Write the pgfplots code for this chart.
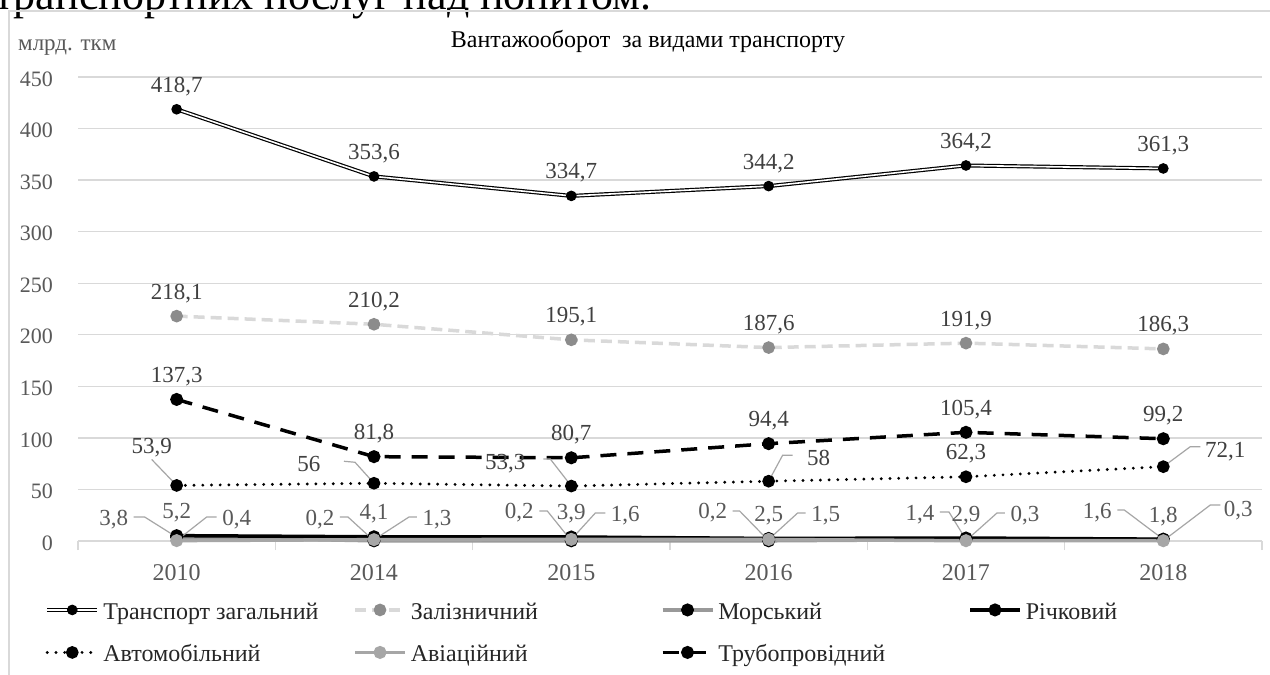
\documentclass[border=0pt]{standalone}
\usepackage{fontspec}
\setmainfont{Liberation Serif}
\usepackage{pgfplots}
\pgfplotsset{compat=1.18}
\definecolor{gridgray}{HTML}{D9D9D9}
\definecolor{tickgray}{HTML}{595959}
\definecolor{labgray}{HTML}{404040}
\definecolor{leadgray}{HTML}{A6A6A6}
\definecolor{railline}{HTML}{D9D9D9}
\definecolor{railmark}{HTML}{8C8C8C}
\definecolor{seagray}{HTML}{999999}
\definecolor{aviagray}{HTML}{A6A6A6}
\definecolor{legtext}{HTML}{262626}
\newcommand{\fs}[1]{\fontsize{#1}{#1}\selectfont}
\newcommand{\lent}[1]{\makebox[254pt][l]{\hspace{4pt}\rule[-16pt]{0pt}{46pt}#1}}
\tikzset{
  dlab/.style={font=\fs{23}, text=labgray, anchor=base, yshift=17pt, inner sep=0pt},
  slab/.style={font=\fs{23}, text=tickgray, anchor=base, yshift=17pt, inner sep=0pt},
  lab/.style={font=\fs{23}, text=labgray, anchor=base, inner sep=0pt},
  glab/.style={font=\fs{23}, text=tickgray, anchor=base, inner sep=0pt},
  lead/.style={leadgray, line width=1.2pt},
}
\begin{document}
\begin{tikzpicture}
\useasboundingbox (0,0) rectangle (1270pt,-675pt);
\fill[white] (0,0) rectangle (1270pt,-675pt);
\clip (0,0) rectangle (1270pt,-675pt);
\node[anchor=base west, inner sep=0pt] at (-6pt,-9pt) {\fontsize{44pt}{50pt}\selectfont транспортних послуг над попитом.};
\draw[gridgray, line width=1.5pt] (9pt,-700pt) -- (9pt,-11pt) -- (1300pt,-11pt);
\node[anchor=base, inner sep=0pt, font=\fs{24}] at (648pt,-47pt) {Вантажооборот\ \ за видами транспорту};
\node[anchor=base west, inner sep=0pt, font=\fs{23}, text=tickgray] at (18pt,-50pt) {млрд. ткм};
\begin{axis}[
  at={(78pt,-541pt)}, anchor=south west,
  scale only axis, width=1184pt, height=464pt,
  xmin=-0.5, xmax=5.5, ymin=0, ymax=450,
  clip=false,
  xtick={0,...,5}, xticklabels={2010,2014,2015,2016,2017,2018},
  minor xtick={-0.5,0.5,...,5.5},
  ytick={0,50,...,450},
  ymajorgrids, major grid style={gridgray, line width=1.3pt},
  axis x line*=bottom, axis y line*=left,
  x axis line style={gridgray, line width=1.3pt},
  y axis line style={draw=none},
  major tick length=0pt, minor tick length=9pt, tick align=outside,
  major tick style={draw=none},
  minor x tick style={gridgray, line width=1.3pt},
  /pgf/number format/assume math mode=true,
  /pgf/number format/use comma,
  xticklabel style={font=\fs{24}, text=tickgray, anchor=center, yshift=-32pt},
  yticklabel style={font=\fs{22}, text=tickgray, anchor=east, inner sep=0pt, xshift=-25pt, yshift=-2pt},
  legend columns=4,
  legend cell align=left,
  legend style={draw=none, fill=none, at={(-0.0278,-0.1034)}, anchor=north west,
    font=\fs{24}, text=legtext, column sep=0pt, row sep=11pt, inner sep=0pt,
    nodes={inner sep=0pt}},
  legend image code/.code={\draw[yshift=-5pt, mark repeat=2,mark phase=2] plot coordinates {(0pt,0pt) (25pt,0pt) (50pt,0pt)};},
]
\addplot[black, line width=1.2pt, double=white, double distance=1.6pt, mark=*, mark size=4.7pt,
  mark options={solid, fill=black, draw=black},
  nodes near coords, every node near coord/.append style={dlab}]
  coordinates {(0,418.7) (1,353.6) (2,334.7) (3,344.2) (4,364.2) (5,361.3)};
\addlegendentry{\lent{Транспорт загальний}}
\addplot[railline, line width=3.5pt, dash pattern=on 11pt off 6pt, mark=*, mark size=4.5pt,
  mark options={solid, fill=railmark, draw=railmark},
  nodes near coords, every node near coord/.append style={dlab}]
  coordinates {(0,218.1) (1,210.2) (2,195.1) (3,187.6) (4,191.9) (5,186.3)};
\addlegendentry{\lent{Залізничний}}
\addplot[seagray, line width=3.5pt, mark=*, mark size=4.7pt,
  mark options={solid, fill=black, draw=black}]
  coordinates {(0,3.8) (1,0.2) (2,0.2) (3,0.2) (4,1.4) (5,1.6)};
\addlegendentry{\lent{Морський}}
\addplot[black, line width=3.5pt, mark=*, mark size=4.7pt,
  mark options={solid, fill=black, draw=black},
  nodes near coords, every node near coord/.append style={slab}]
  coordinates {(0,5.2) (1,4.1) (2,3.9) (3,2.5) (4,2.9) (5,1.8)};
\addlegendentry{\lent{Річковий}}
\addplot[black, line width=3.2pt, line cap=round, dash pattern=on 0pt off 8.7pt, mark=*, mark size=4.7pt,
  mark options={solid, fill=black, draw=black}]
  coordinates {(0,53.9) (1,56) (2,53.3) (3,58) (4,62.3) (5,72.1)};
\addlegendentry{\lent{Автомобільний}}
\addplot[aviagray, line width=3.5pt, mark=*, mark size=4.7pt,
  mark options={solid, fill=aviagray, draw=aviagray}]
  coordinates {(0,0.4) (1,1.3) (2,1.6) (3,1.5) (4,0.3) (5,0.3)};
\addlegendentry{\lent{Авіаційний}}
\addplot[black, line width=3.5pt, dash pattern=on 16pt off 11pt, mark=*, mark size=4.7pt,
  mark options={solid, fill=black, draw=black},
  nodes near coords, every node near coord/.append style={dlab}]
  coordinates {(0,137.3) (1,81.8) (2,80.7) (3,94.4) (4,105.4) (5,99.2)};
\addlegendentry{\lent{Трубопровідний}}
% road transport labels
\draw[lead] ([shift={(-25pt,26pt)}]axis cs:0,53.9) -- (axis cs:0,53.9);
\node[lab] at ([shift={(-25pt,32pt)}]axis cs:0,53.9) {53,9};
\draw[lead] ([shift={(-30pt,22pt)}]axis cs:1,56) -- ([shift={(-19pt,21pt)}]axis cs:1,56) -- (axis cs:1,56);
\node[lab] at ([shift={(-65pt,12pt)}]axis cs:1,56) {56};
\draw[lead] ([shift={(-28pt,27pt)}]axis cs:2,53.3) -- ([shift={(-21pt,27pt)}]axis cs:2,53.3) -- (axis cs:2,53.3);
\node[lab] at ([shift={(-66pt,17pt)}]axis cs:2,53.3) {53,3};
\draw[lead] ([shift={(24pt,26pt)}]axis cs:3,58) -- ([shift={(14pt,26pt)}]axis cs:3,58) -- (axis cs:3,58);
\node[lab] at ([shift={(50pt,16pt)}]axis cs:3,58) {58};
\node[lab] at ([shift={(0pt,17pt)}]axis cs:4,62.3) {62,3};
\draw[lead] ([shift={(37pt,20pt)}]axis cs:5,72.1) -- ([shift={(27pt,20pt)}]axis cs:5,72.1) -- (axis cs:5,72.1);
\node[lab] at ([shift={(62pt,9pt)}]axis cs:5,72.1) {72,1};
% sea (left) and aviation (right) labels
\draw[lead] ([shift={(-43pt,24pt)}]axis cs:0,0) -- ([shift={(-32pt,24pt)}]axis cs:0,0) -- (axis cs:0,3.8);
\node[glab] at ([shift={(-63pt,16pt)}]axis cs:0,0) {3,8};
\draw[lead] ([shift={(40pt,24pt)}]axis cs:0,0) -- ([shift={(30pt,24pt)}]axis cs:0,0) -- (axis cs:0,0.4);
\node[glab] at ([shift={(60pt,16pt)}]axis cs:0,0) {0,4};
\draw[lead] ([shift={(-34pt,24pt)}]axis cs:1,0) -- ([shift={(-26pt,24pt)}]axis cs:1,0) -- (axis cs:1,0.2);
\node[glab] at ([shift={(-54pt,16pt)}]axis cs:1,0) {0,2};
\draw[lead] ([shift={(43pt,24pt)}]axis cs:1,0) -- ([shift={(35pt,24pt)}]axis cs:1,0) -- (axis cs:1,1.3);
\node[glab] at ([shift={(63pt,16pt)}]axis cs:1,0) {1,3};
\draw[lead] ([shift={(-32pt,30pt)}]axis cs:2,0) -- ([shift={(-24pt,30pt)}]axis cs:2,0) -- (axis cs:2,0.2);
\node[glab] at ([shift={(-52pt,23pt)}]axis cs:2,0) {0,2};
\draw[lead] ([shift={(34pt,28pt)}]axis cs:2,0) -- ([shift={(24pt,28pt)}]axis cs:2,0) -- (axis cs:2,1.6);
\node[glab] at ([shift={(54pt,20pt)}]axis cs:2,0) {1,6};
\draw[lead] ([shift={(-36pt,30pt)}]axis cs:3,0) -- ([shift={(-29pt,30pt)}]axis cs:3,0) -- (axis cs:3,0.2);
\node[glab] at ([shift={(-56pt,23pt)}]axis cs:3,0) {0,2};
\draw[lead] ([shift={(37pt,28pt)}]axis cs:3,0) -- ([shift={(29pt,28pt)}]axis cs:3,0) -- (axis cs:3,1.5);
\node[glab] at ([shift={(57pt,20pt)}]axis cs:3,0) {1,5};
\draw[lead] ([shift={(-26pt,29pt)}]axis cs:4,0) -- ([shift={(-17pt,29pt)}]axis cs:4,0) -- (axis cs:4,1.4);
\node[glab] at ([shift={(-46pt,21pt)}]axis cs:4,0) {1,4};
\draw[lead] ([shift={(39pt,28pt)}]axis cs:4,0) -- ([shift={(31pt,28pt)}]axis cs:4,0) -- (axis cs:4,0.3);
\node[glab] at ([shift={(59pt,20pt)}]axis cs:4,0) {0,3};
\draw[lead] ([shift={(-46pt,31pt)}]axis cs:5,0) -- ([shift={(-39pt,31pt)}]axis cs:5,0) -- (axis cs:5,1.6);
\node[glab] at ([shift={(-66pt,23pt)}]axis cs:5,0) {1,6};
\draw[lead] ([shift={(57pt,36pt)}]axis cs:5,0) -- ([shift={(47pt,36pt)}]axis cs:5,0) -- (axis cs:5,0.3);
\node[glab] at ([shift={(75pt,25pt)}]axis cs:5,0) {0,3};
\end{axis}
\end{tikzpicture}
\end{document}
